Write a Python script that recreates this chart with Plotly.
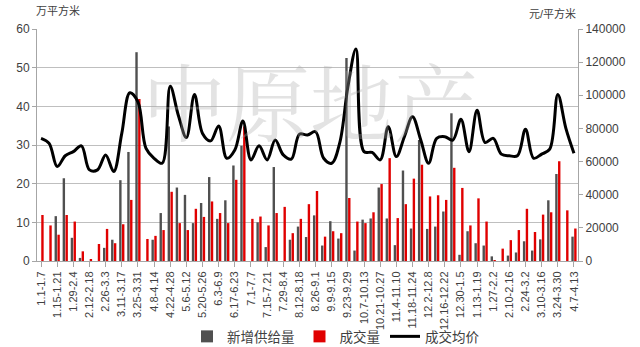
import plotly.graph_objects as go

weeks = [
    "1.1-1.7", "1.8-1.14", "1.15-1.21", "1.22-1.28", "1.29-2.4", "2.5-2.11",
    "2.12-2.18", "2.19-2.25", "2.26-3.3", "3.4-3.10", "3.11-3.17", "3.18-3.24",
    "3.25-3.31", "4.1-4.7", "4.8-4.14", "4.15-4.21", "4.22-4.28", "4.29-5.5",
    "5.6-5.12", "5.13-5.19", "5.20-5.26", "5.27-6.2", "6.3-6.9", "6.10-6.16",
    "6.17-6.23", "6.24-6.30", "7.1-7.7", "7.8-7.14", "7.15-7.21", "7.22-7.28",
    "7.29-8.4", "8.5-8.11", "8.12-8.18", "8.19-8.25", "8.26-9.1", "9.2-9.8",
    "9.9-9.15", "9.16-9.22", "9.23-9.29", "9.30-10.6", "10.7-10.13", "10.14-10.20",
    "10.21-10.27", "10.28-11.3", "11.4-11.10", "11.11-11.17", "11.18-11.24", "11.25-12.1",
    "12.2-12.8", "12.9-12.15", "12.16-12.22", "12.23-12.29", "12.30-1.5", "1.6-1.12",
    "1.13-1.19", "1.20-1.26", "1.27-2.2", "2.3-2.9", "2.10-2.16", "2.17-2.23",
    "2.24-3.2", "3.3-3.9", "3.10-3.16", "3.17-3.23", "3.24-3.30", "3.31-4.6",
    "4.7-4.13",
]

tick_labels = [
    "1.1-1.7", "1.15-1.21", "1.29-2.4", "2.12-2.18", "2.26-3.3", "3.11-3.17",
    "3.25-3.31", "4.8-4.14", "4.22-4.28", "5.6-5.12", "5.20-5.26", "6.3-6.9",
    "6.17-6.23", "7.1-7.7", "7.15-7.21", "7.29-8.4", "8.12-8.18", "8.26-9.1",
    "9.9-9.15", "9.23-9.29", "10.7-10.13", "10.21-10.27", "11.4-11.10", "11.18-11.24",
    "12.2-12.8", "12.16-12.22", "12.30-1.5", "1.13-1.19", "1.27-2.2", "2.10-2.16",
    "2.24-3.2", "3.10-3.16", "3.24-3.30", "4.7-4.13",
]

new_supply = [
    0, 0, 11.6, 21.4, 6.0, 0.8, 0, 0, 3.4, 5.5, 20.9, 28.2, 54.0, 0, 5.5, 12.4,
    34.8, 19.0, 17.1, 9.8, 15.0, 21.7, 10.9, 15.7, 24.7, 29.8, 0, 10.0, 3.6, 24.3,
    0, 5.5, 8.9, 6.2, 11.8, 4.0, 10.3, 5.8, 52.5, 2.7, 10.7, 11.0, 19.0, 11.0,
    4.1, 23.4, 8.4, 31.3, 8.3, 8.9, 12.8, 38.2, 1.6, 7.7, 4.6, 4.0, 1.2, 0,
    1.4, 2.2, 5.1, 2.7, 5.6, 15.7, 22.5, 0, 6.3,
]

deal_volume = [
    11.9, 9.2, 6.8, 11.9, 10.2, 2.5, 0.5, 4.4, 8.3, 4.6, 9.5, 15.8, 41.9, 5.7,
    6.5, 8.0, 17.9, 9.8, 8.0, 13.5, 11.4, 15.4, 12.4, 9.8, 21.0, 34.8, 10.9, 11.5,
    9.2, 12.4, 14.0, 7.2, 10.9, 14.7, 18.1, 6.3, 7.7, 7.2, 16.3, 10.2, 9.8, 12.6,
    19.9, 26.6, 11.1, 14.7, 21.3, 24.9, 16.7, 17.0, 15.8, 24.1, 18.9, 9.2, 16.2,
    10.2, 0.2, 3.2, 5.4, 8.0, 13.5, 7.5, 12.0, 12.6, 25.8, 13.1, 8.4,
]

avg_price = [
    74000, 71000, 57000, 63500, 66000, 69500, 55000, 55000, 64000, 54000,
    77000, 101500, 96000, 68000, 62000, 59000, 105500, 88000, 74500, 100500,
    77000, 72500, 81500, 62000, 67000, 84500, 61000, 69500, 61000, 73000,
    64000, 61500, 76500, 76000, 78000, 62000, 59000, 71500, 105000, 128000,
    66000, 65500, 61000, 81000, 63000, 75000, 87000, 73500, 59000, 74000,
    75000, 73000, 85500, 66000, 91000, 71500, 74000, 64500, 63500, 63500,
    79500, 62000, 64500, 67500, 100500, 80000, 65000,
]

FONT = "Liberation Sans, Noto Sans CJK SC, sans-serif"
AXIS_GREY = "#a6a6a6"
TXT = "#404040"

fig = go.Figure()
fig.add_trace(go.Bar(
    x=weeks, y=new_supply, name="新增供给量",
    marker=dict(color="#505050", line=dict(width=0)),
    yaxis="y",
))
fig.add_trace(go.Bar(
    x=weeks, y=deal_volume, name="成交量",
    marker=dict(color="#e00000", line=dict(width=0)),
    yaxis="y",
))
fig.add_trace(go.Scatter(
    x=weeks, y=avg_price, name="成交均价", mode="lines",
    line=dict(color="black", width=3, shape="spline", smoothing=1.0),
    yaxis="y2",
))

fig.update_layout(
    width=640, height=347,
    margin=dict(l=37, r=62, t=29, b=86, autoexpand=False),
    paper_bgcolor="white", plot_bgcolor="white",
    font=dict(family=FONT, size=12, color=TXT),
    barmode="group", bargap=0.3, bargroupgap=0.15,
    showlegend=True,
    legend=dict(
        orientation="h", xref="container", yref="container",
        x=0.525, xanchor="center", y=0.03, yanchor="middle",
        font=dict(size=13.5, color=TXT), itemwidth=30, traceorder="normal",
        bgcolor="rgba(0,0,0,0)",
    ),
    xaxis=dict(
        type="category", categoryorder="array", categoryarray=weeks,
        tickmode="array", tickvals=tick_labels, ticktext=tick_labels,
        tickangle=-90, tickfont=dict(size=11, color=TXT),
        showline=True, linecolor=AXIS_GREY, linewidth=1,
        ticks="outside", ticklen=5, tickcolor=AXIS_GREY,
        showgrid=False, zeroline=False, automargin=False,
    ),
    yaxis=dict(
        range=[0, 60], dtick=10, tick0=0,
        showgrid=True, gridcolor="#bfbfbf", gridwidth=1,
        showline=True, linecolor=AXIS_GREY, linewidth=1,
        ticks="outside", ticklen=4, tickcolor=AXIS_GREY,
        tickfont=dict(size=12, color=TXT), zeroline=False, automargin=False,
    ),
    yaxis2=dict(
        range=[0, 140000], dtick=20000, tick0=0, tickformat="d",
        overlaying="y", side="right", showgrid=False,
        showline=True, linecolor=AXIS_GREY, linewidth=1,
        ticks="outside", ticklen=4, tickcolor=AXIS_GREY,
        tickfont=dict(size=12, color=TXT), zeroline=False, automargin=False,
    ),
    annotations=[
        dict(text="中原地产", xref="paper", yref="paper", x=0.505, y=0.70,
             xanchor="center", yanchor="middle", showarrow=False,
             font=dict(size=84, color="rgba(170,170,170,0.33)",
                       family="Noto Serif CJK SC, Noto Sans CJK SC")),
        dict(text="万平方米", xref="paper", yref="paper", x=-0.005, y=1.0,
             xanchor="left", yanchor="bottom", yshift=10, showarrow=False,
             font=dict(size=11, color=TXT)),
        dict(text="元/平方米", xref="paper", yref="paper", x=1.0, y=1.0,
             xanchor="right", yanchor="bottom", yshift=7, showarrow=False,
             font=dict(size=11, color=TXT)),
    ],
)

fig.write_html("out.html")
